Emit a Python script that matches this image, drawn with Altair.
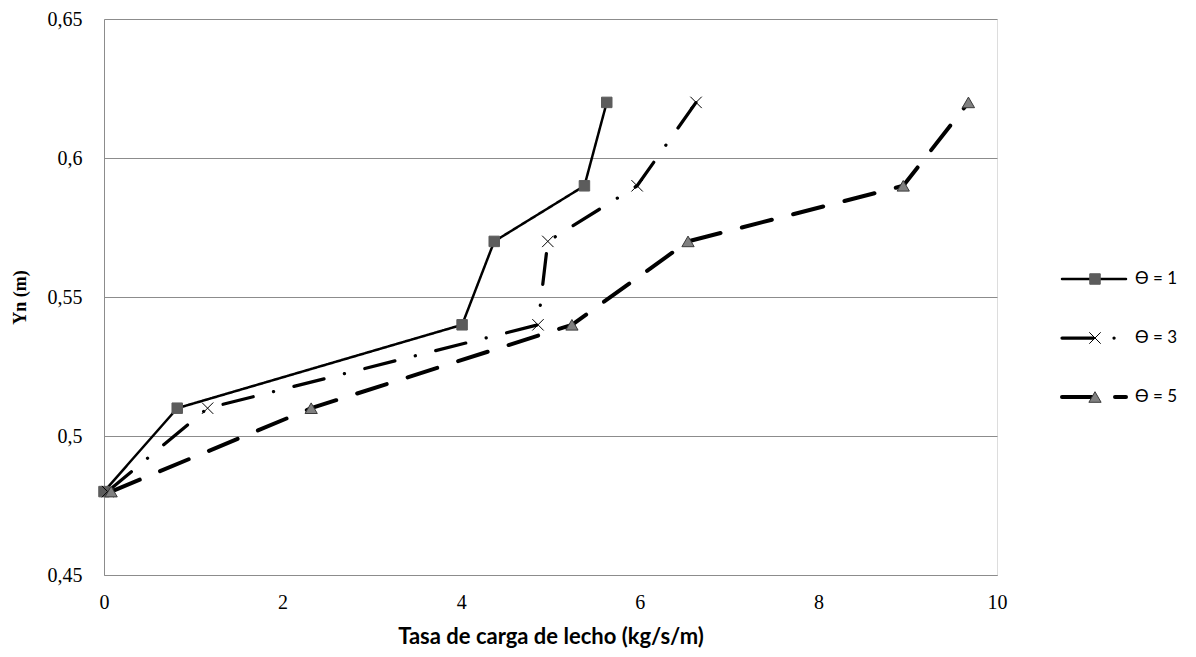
import altair as alt
import pandas as pd

# ---- data ----
series_names = ["ϴ = 1", "ϴ = 3", "ϴ = 5"]
yn_values = [0.48, 0.51, 0.54, 0.57, 0.59, 0.62]
x_theta1 = [0.00, 0.82, 4.01, 4.37, 5.38, 5.63]
x_theta3 = [0.04, 1.16, 4.86, 4.97, 5.97, 6.63]
x_theta5 = [0.08, 2.32, 5.24, 6.54, 8.95, 9.68]
x_ticks = [0, 2, 4, 6, 8, 10]
y_ticks = [0.45, 0.50, 0.55, 0.60, 0.65]

rows = []
for name, xs in zip(series_names, [x_theta1, x_theta3, x_theta5]):
    for i, (xv, yv) in enumerate(zip(xs, yn_values)):
        rows.append({"series": name, "x": xv, "y": yv, "order": i})
df = pd.DataFrame(rows)
legend_df = pd.DataFrame({"series": series_names})

# ---- styles ----
SERIF = "Liberation Serif, Times New Roman, serif"
SANS = "Lato, Open Sans, sans-serif"
dash_range = [[1, 0], [31, 21, 0.1, 21], [31, 22]]
width_range = [2.5, 4, 4]
shape_range = ["square", "M-1,-1L1,1M-1,1L1,-1", "triangle-up"]
fill_range = ["#5c5c5c", "transparent", "#808080"]
stroke_range = ["#5c5c5c", "#000000", "#3a3a3a"]
size_range = [110, 150, 170]
grey = "#8c8c8c"

dash_enc = alt.StrokeDash("series:N", scale=alt.Scale(domain=series_names, range=dash_range), legend=None)
width_enc = alt.StrokeWidth("series:N", scale=alt.Scale(domain=series_names, range=width_range), legend=None)
shape_enc = alt.Shape("series:N", scale=alt.Scale(domain=series_names, range=shape_range), legend=None)
fill_enc = alt.Fill("series:N", scale=alt.Scale(domain=series_names, range=fill_range), legend=None)
stroke_enc = alt.Stroke("series:N", scale=alt.Scale(domain=series_names, range=stroke_range), legend=None)
size_enc = alt.Size("series:N", scale=alt.Scale(domain=series_names, range=size_range), legend=None)

x_enc = alt.X(
    "x:Q",
    scale=alt.Scale(domain=[0, 10], nice=False, zero=False),
    axis=alt.Axis(
        values=x_ticks, format="d", title="Tasa de carga de lecho (kg/s/m)", grid=False,
        ticks=False, tickSize=0, domainColor=grey, labelFont=SERIF, labelFlush=False,
        labelFontSize=20, labelColor="black", labelPadding=17,
        titleFont=SANS, titleFontSize=22, titleFontWeight="bold",
        titleColor="black", titlePadding=14,
    ),
)
y_enc = alt.Y(
    "y:Q",
    scale=alt.Scale(domain=[0.45, 0.65], nice=False, zero=False),
    axis=alt.Axis(
        values=y_ticks, title="Yn (m)", grid=True, gridColor=grey,
        ticks=False, tickSize=0, domainColor=grey, labelFont=SERIF, labelFlush=False,
        labelFontSize=20, labelColor="black", labelPadding=22,
        labelExpr="replace(format(datum.value, '.2~f'), '.', ',')",
        titleFont=SERIF, titleFontSize=18, titleFontWeight="bold",
        titleColor="black", titlePadding=18,
    ),
)

lines = alt.Chart(df).mark_line(color="black", strokeCap="round", strokeJoin="round").encode(
    x=x_enc, y=y_enc, order="order:Q", detail="series:N",
    strokeDash=dash_enc, strokeWidth=width_enc,
)
points = alt.Chart(df).mark_point(filled=True, opacity=1, strokeWidth=1).encode(
    x="x:Q", y="y:Q", shape=shape_enc, fill=fill_enc, stroke=stroke_enc, size=size_enc,
)
main = alt.layer(lines, points)

# ---- hand-made legend (right of plot) ----
leg_y = alt.Y("series:N", scale=alt.Scale(type="point", domain=series_names, range=[260, 378], padding=0), axis=None)
leg_rule = alt.Chart(legend_df).mark_rule(color="black", strokeCap="round").encode(
    x=alt.value(958), x2=alt.value(1022), y=leg_y, strokeDash=dash_enc, strokeWidth=width_enc,
)
leg_pt = alt.Chart(legend_df).mark_point(filled=True, opacity=1, strokeWidth=1).encode(
    x=alt.value(991), y=leg_y, shape=shape_enc, fill=fill_enc, stroke=stroke_enc, size=size_enc,
)
leg_txt = alt.Chart(legend_df).mark_text(align="left", baseline="middle", font=SANS, fontSize=17, color="black").encode(
    x=alt.value(1031), y=leg_y, text="series:N",
)
legend = alt.layer(leg_rule, leg_pt, leg_txt)

chart = alt.layer(main, legend).resolve_scale(y="independent").properties(
    width=893, height=556,
    autosize=alt.AutoSizeParams(type="none"),
    padding={"left": 96, "top": 11, "right": 190, "bottom": 78},
).configure_view(stroke=grey, strokeWidth=1).configure(background="white")

chart.save("out.html", embed_options={"renderer": "svg", "actions": False})
